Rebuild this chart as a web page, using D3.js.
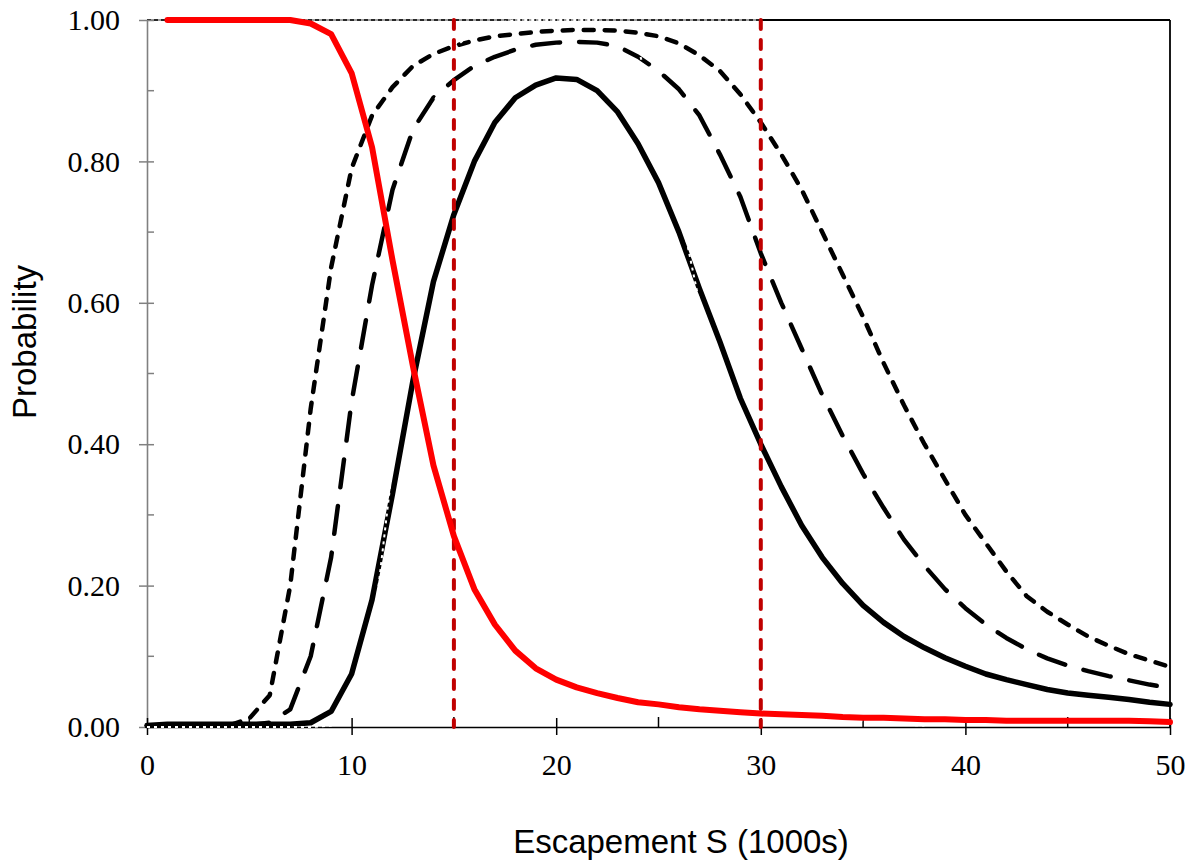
<!DOCTYPE html>
<html><head><meta charset="utf-8">
<script src="https://cdn.jsdelivr.net/npm/d3@7"></script>
<style>html,body{margin:0;padding:0;background:#fff;}svg{display:block;}</style>
</head><body>
<svg id="c" width="1192" height="863"></svg>
<script>
// ---- data ----
const xCats = [0,1,2,3,4,5,6,7,8,9,10,11,12,13,14,15,16,17,18,19,20,21,22,23,24,25,26,27,28,29,30,31,32,33,34,35,36,37,38,39,40,41,42,43,44,45,46,47,48,49,50];
const solidSeries = [0.002,0.004,0.004,0.004,0.004,0.004,0.004,0.004,0.006,0.022,0.075,0.18,0.33,0.49,0.63,0.725,0.80,0.855,0.89,0.908,0.918,0.916,0.90,0.87,0.825,0.77,0.70,0.62,0.545,0.465,0.40,0.34,0.285,0.24,0.203,0.172,0.148,0.128,0.112,0.098,0.086,0.075,0.067,0.06,0.053,0.048,0.045,0.042,0.039,0.035,0.032];
const longDashSeries = [0.002,0.002,0.002,0.002,0.002,0.003,0.006,0.025,0.10,0.24,0.46,0.625,0.76,0.845,0.89,0.915,0.935,0.948,0.958,0.965,0.968,0.969,0.968,0.963,0.948,0.928,0.902,0.865,0.81,0.75,0.67,0.60,0.535,0.47,0.412,0.358,0.31,0.265,0.228,0.195,0.168,0.145,0.126,0.11,0.097,0.087,0.079,0.072,0.066,0.06,0.055];
const shortDashSeries = [0.002,0.002,0.002,0.002,0.002,0.012,0.045,0.20,0.45,0.65,0.79,0.865,0.905,0.935,0.952,0.963,0.971,0.977,0.98,0.983,0.985,0.986,0.986,0.985,0.982,0.977,0.967,0.95,0.928,0.895,0.855,0.81,0.76,0.70,0.64,0.58,0.515,0.455,0.40,0.35,0.30,0.26,0.22,0.185,0.163,0.145,0.128,0.115,0.103,0.094,0.085];
const redX = [1,2,3,4,5,6,7,8,9,10,11,12,13,14,15,16,17,18,19,20,21,22,23,24,25,26,27,28,29,30,31,32,33,34,35,36,37,38,39,40,41,42,43,44,45,46,47,48,49,50];
const redSeries = [1.0,1.0,1.0,1.0,1.0,1.0,1.0,0.995,0.98,0.925,0.82,0.66,0.51,0.37,0.27,0.195,0.145,0.108,0.083,0.067,0.056,0.048,0.041,0.035,0.032,0.028,0.025,0.023,0.021,0.019,0.018,0.017,0.016,0.014,0.013,0.013,0.012,0.011,0.011,0.010,0.010,0.009,0.009,0.009,0.009,0.009,0.009,0.009,0.008,0.007];
// hidden (white) series, visible only where it crosses black lines
const hiddenX = [0,1,2,3,4,5,6,7,8,9,10,11,12,13,14,15,16,17,18,19,20,21,22,23,24,25,26,27,28,29,30,31,32,33,34,35,36,37,38];
const hiddenSeries = [0,0,0,0,0,0,0,0,0,0.002,0.03,0.12,0.37,0.68,0.88,0.96,0.985,0.995,1.0,1.0,1.0,1.0,1.0,0.99,0.96,0.86,0.74,0.60,0.45,0.30,0.18,0.10,0.06,0.03,0.015,0.008,0.005,0.003,0.002];
const topSegX = [0,30];
const topSegY = [1.0,1.0];
const vLinesX = [15,30];
const xTicks = [0,10,20,30,40,50];
const xMinor = [5,15,25,35,45];
const yTicks = [0,0.2,0.4,0.6,0.8,1.0];
const yMinor = [0.1,0.3,0.5,0.7,0.9];
const xTitle = "Escapement S (1000s)";
const yTitle = "Probability";

// ---- layout ----
const L = 147, R = 1170, T = 20, B = 727;
const svg = d3.select("#c");
const x = d3.scaleLinear().domain([0,50]).range([L,R]);
const y = d3.scaleLinear().domain([0,1]).range([B,T]);

// frame: top & right
svg.append("line").attr("x1",L).attr("x2",R).attr("y1",T).attr("y2",T).attr("stroke","#a0a0a0").attr("stroke-width",2);
svg.append("line").attr("x1",x(30)).attr("x2",R).attr("y1",T).attr("y2",T).attr("stroke","#000").attr("stroke-width",1.8);
svg.append("line").attr("x1",R).attr("x2",R).attr("y1",T).attr("y2",B).attr("stroke","#000").attr("stroke-width",1.8);
svg.append("path").datum(topSegX.map((v,i)=>[v,topSegY[i]]))
  .attr("d", d3.line().x(d=>x(d[0])).y(d=>y(d[1])))
  .attr("stroke","#000").attr("stroke-width",1.6).attr("stroke-dasharray","4,3").attr("fill","none");

// left axis (gray)
const yAxis = d3.axisLeft(y).tickValues(yTicks).tickFormat(d3.format(".2f")).tickSize(0).tickPadding(27);
const gy = svg.append("g").attr("transform",`translate(${L},0)`).call(yAxis);
gy.select(".domain").attr("stroke","#808080").attr("stroke-width",1.6);
gy.selectAll("text").attr("font-family","'Liberation Serif', 'Times New Roman', serif").attr("font-size",30).attr("fill","#000");
gy.selectAll(".tick").append("line").attr("x1",-8).attr("x2",7).attr("stroke","#808080").attr("stroke-width",1.5);
svg.append("g").selectAll("line").data(yMinor).join("line")
  .attr("x1",L).attr("x2",L+7).attr("y1",d=>y(d)).attr("y2",d=>y(d)).attr("stroke","#808080").attr("stroke-width",1.5);

// bottom axis (black)
const xAxis = d3.axisBottom(x).tickValues(xTicks).tickFormat(d3.format("d")).tickSize(0).tickPadding(27);
const gx = svg.append("g").attr("transform",`translate(0,${B})`).call(xAxis);
gx.select(".domain").attr("stroke","#000").attr("stroke-width",1.6);
gx.selectAll("text").attr("font-family","'Liberation Serif', 'Times New Roman', serif").attr("font-size",30).attr("fill","#000");
gx.selectAll(".tick").append("line").attr("y1",-9).attr("y2",8).attr("stroke","#000").attr("stroke-width",1.5);
svg.append("g").selectAll("line").data(xMinor).join("line")
  .attr("x1",d=>x(d)).attr("x2",d=>x(d)).attr("y1",B).attr("y2",B-10).attr("stroke","#000").attr("stroke-width",1.5);

// series
const line = d3.line().x(d=>x(d[0])).y(d=>y(d[1]));
function draw(xs, ys, color, width, dash, cap){
  svg.append("path").datum(xs.map((v,i)=>[v,ys[i]])).attr("d",line)
    .attr("fill","none").attr("stroke",color).attr("stroke-width",width)
    .attr("stroke-dasharray",dash||null).attr("stroke-linecap",cap||"round").attr("stroke-linejoin","round");
}
draw(xCats, shortDashSeries, "#000", 4.5, "10,11");
draw(xCats, longDashSeries, "#000", 4.5, "28,19");
draw(xCats, solidSeries, "#000", 5.5, null);
draw(hiddenX, hiddenSeries, "#fff", 2, "3,4", "butt");

// vertical reference lines
svg.append("g").selectAll("line").data(vLinesX).join("line")
  .attr("x1",d=>x(d)).attr("x2",d=>x(d)).attr("y1",y(1)).attr("y2",y(0))
  .attr("stroke","#c00000").attr("stroke-width",4).attr("stroke-dasharray","9,11").attr("stroke-linecap","round");

draw(redX, redSeries, "#ff0000", 6, null);

// titles
svg.append("text").attr("x",681).attr("y",853).attr("text-anchor","middle")
  .attr("font-family","'Liberation Sans', Arial, sans-serif").attr("font-size",33).attr("fill","#000").text(xTitle);
svg.append("text").attr("transform","translate(36,342) rotate(-90)").attr("text-anchor","middle")
  .attr("font-family","'Liberation Sans', Arial, sans-serif").attr("font-size",33).attr("fill","#000").text(yTitle);
</script>
</body></html>
